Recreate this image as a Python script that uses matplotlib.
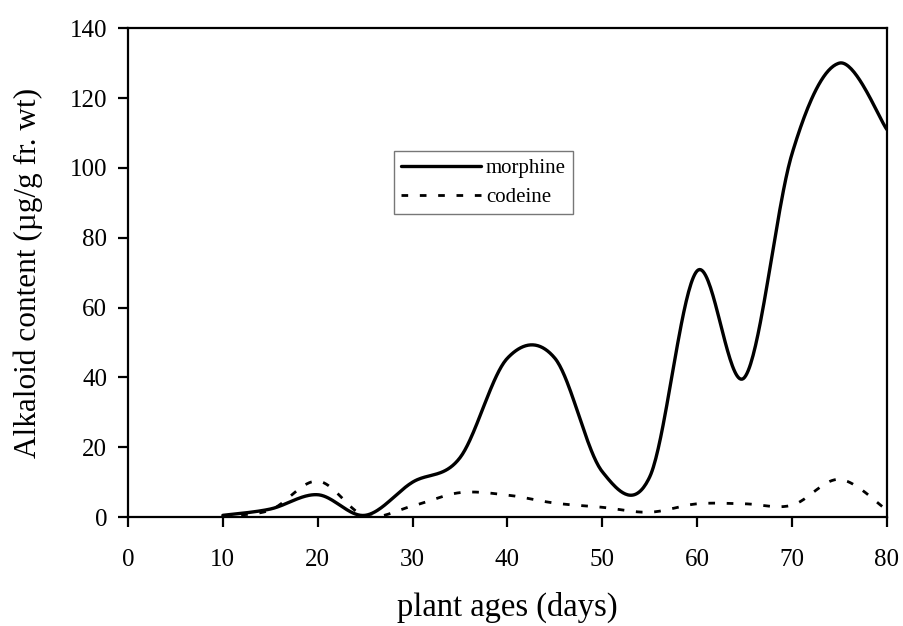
import numpy as np
import matplotlib
matplotlib.use("Agg")
import matplotlib.pyplot as plt

days = [10, 15, 20, 25, 30, 35, 40, 45, 50, 55, 60, 65, 70, 75, 80]
morphine = [0.5, 2.3, 6.4, 0.5, 10.0, 17.0, 45.5, 45.5, 13.0, 11.5, 70.5, 40.0, 104.0, 130.0, 111.0]
codeine = [0.4, 2.0, 10.3, 0.3, 3.2, 7.0, 6.3, 4.0, 2.8, 1.4, 3.8, 3.8, 3.4, 10.8, 2.0]

x_ticks = [0, 10, 20, 30, 40, 50, 60, 70, 80]
y_ticks = [0, 20, 40, 60, 80, 100, 120, 140]


def smooth(xs, ys, n=40):
    """Catmull-Rom smoothing (like a spreadsheet 'smoothed line')."""
    xs = np.asarray(xs, float)
    ys = np.asarray(ys, float)
    px = np.concatenate([[xs[0]], xs, [xs[-1]]])
    py = np.concatenate([[ys[0]], ys, [ys[-1]]])
    ox, oy = [], []
    for i in range(1, len(px) - 2):
        p0 = np.array([px[i - 1], py[i - 1]])
        p1 = np.array([px[i], py[i]])
        p2 = np.array([px[i + 1], py[i + 1]])
        p3 = np.array([px[i + 2], py[i + 2]])
        c1 = p1 + (p2 - p0) / 6.0
        c2 = p2 - (p3 - p1) / 6.0
        t = np.linspace(0, 1, n)[:, None]
        b = ((1 - t) ** 3) * p1 + 3 * ((1 - t) ** 2) * t * c1 + 3 * (1 - t) * t ** 2 * c2 + t ** 3 * p2
        ox.extend(b[:, 0])
        oy.extend(b[:, 1])
    return np.array(ox), np.array(oy)


plt.rcParams['font.family'] = ['Liberation Serif', 'DejaVu Serif']

fig = plt.figure(figsize=(9.04, 6.26), dpi=100)
ax = fig.add_axes([0.1416, 0.174, 0.8394, 0.781])

mx, my = smooth(days, morphine)
cx, cy = smooth(days, codeine)
ax.plot(mx, my, color='black', lw=2.4, label='morphine', solid_capstyle='round')
ax.plot(cx, cy, color='black', lw=2.0, dashes=(2.4, 4.2), label='codeine')

ax.set_xlim(0, 80)
ax.set_ylim(0, 140)
ax.set_xticks(x_ticks)
ax.set_yticks(y_ticks)
ax.tick_params(axis='both', direction='out', length=7, width=1.6, labelsize=18, colors='black')
ax.tick_params(axis='x', pad=16)
ax.tick_params(axis='y', pad=8)
for s in ax.spines.values():
    s.set_linewidth(1.6)
    s.set_color('black')

ax.set_xlabel('plant ages (days)', fontsize=23.5)
ax.set_ylabel('Alkaloid content (µg/g fr. wt)', fontsize=22.5)
ax.xaxis.set_label_coords(0.5, -0.153)
ax.yaxis.set_label_coords(-0.112, 0.5)

leg = ax.legend(loc='upper left', bbox_to_anchor=(0.337, 0.77), fontsize=15,
                frameon=True, fancybox=False, edgecolor='#555555',
                handlelength=3.8, handletextpad=0.25, borderpad=0.35, labelspacing=0.45)
leg.get_frame().set_linewidth(1.0)

fig.savefig('out.png', dpi=100)
